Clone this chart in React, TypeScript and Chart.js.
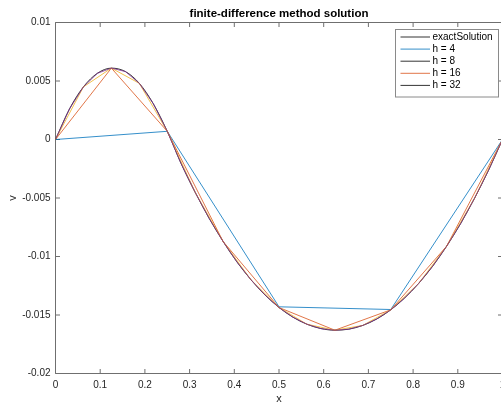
import React, { useEffect, useRef } from 'react';
import { Chart, registerables } from 'chart.js';

Chart.register(...registerables);

// ---------- text ----------
const titleText = 'finite-difference method solution';
const xAxisLabel = 'x';
const yAxisLabel = 'v';

// ---------- ticks ----------
const xTickValues = [0, 0.1, 0.2, 0.3, 0.4, 0.5, 0.6, 0.7, 0.8, 0.9, 1];
const xTickLabels = ['0', '0.1', '0.2', '0.3', '0.4', '0.5', '0.6', '0.7', '0.8', '0.9', '1'];
const yTickValues = [-0.02, -0.015, -0.01, -0.005, 0, 0.005, 0.01];
const yTickLabels = ['-0.02', '-0.015', '-0.01', '-0.005', '0', '0.005', '0.01'];

// ---------- legend (as shown in the figure) ----------
const legendLabels = ['exactSolution', 'h = 4', 'h = 8', 'h = 16', 'h = 32'];
const legendColors = ['#000000', '#0072BD', '#000000', '#D95319', '#000000'];

// ---------- series ----------
const exactX = [
  0, 0.03125, 0.0625, 0.09375, 0.125, 0.15625, 0.1875, 0.21875, 0.25, 0.28125, 0.3125,
  0.34375, 0.375, 0.40625, 0.4375, 0.46875, 0.5, 0.53125, 0.5625, 0.59375, 0.625,
  0.65625, 0.6875, 0.71875, 0.75, 0.78125, 0.8125, 0.84375, 0.875, 0.90625, 0.9375,
  0.96875, 1,
];
const exactV = [
  0, 0.00261, 0.0045, 0.00566, 0.0061, 0.00581, 0.0048, 0.00306, 0.0007, -0.00208,
  -0.00452, -0.00674, -0.00872, -0.01048, -0.012, -0.01329, -0.01436, -0.01519,
  -0.01579, -0.01616, -0.0163, -0.01621, -0.01589, -0.01534, -0.01456, -0.01354,
  -0.0123, -0.01083, -0.00912, -0.00719, -0.00502, -0.00263, 0,
];

const h4X = [0, 0.25, 0.5, 0.75, 1];
const h4V = [0, 0.0007, -0.0143, -0.01453, 0];

const h8X = [0, 0.125, 0.25, 0.375, 0.5, 0.625, 0.75, 0.875, 1];
const h8V = [0, 0.0061, 0.0007, -0.00872, -0.01436, -0.0163, -0.01456, -0.00912, 0];

const h16X = [
  0, 0.0625, 0.125, 0.1875, 0.25, 0.3125, 0.375, 0.4375, 0.5, 0.5625, 0.625, 0.6875,
  0.75, 0.8125, 0.875, 0.9375, 1,
];
const h16V = [
  0, 0.0045, 0.0061, 0.0048, 0.0007, -0.00452, -0.00872, -0.012, -0.01436, -0.01579,
  -0.0163, -0.01589, -0.01456, -0.0123, -0.00912, -0.00502, 0,
];

const h32X = [
  0, 0.03125, 0.0625, 0.09375, 0.125, 0.15625, 0.1875, 0.21875, 0.25, 0.28125, 0.3125,
  0.34375, 0.375, 0.40625, 0.4375, 0.46875, 0.5, 0.53125, 0.5625, 0.59375, 0.625,
  0.65625, 0.6875, 0.71875, 0.75, 0.78125, 0.8125, 0.84375, 0.875, 0.90625, 0.9375,
  0.96875, 1,
];
const h32V = [
  0, 0.00261, 0.0045, 0.00566, 0.0061, 0.00581, 0.0048, 0.00306, 0.0007, -0.00208,
  -0.00452, -0.00674, -0.00872, -0.01048, -0.012, -0.01329, -0.01436, -0.01519,
  -0.01579, -0.01616, -0.0163, -0.01621, -0.01589, -0.01534, -0.01456, -0.01354,
  -0.0123, -0.01083, -0.00912, -0.00719, -0.00502, -0.00263, 0,
];

const FONT = "'Liberation Sans', Arial, Helvetica, sans-serif";
const AXIS_COLOR = '#6f6f6f';
const TEXT_COLOR = '#262626';
const LINE_W = 0.8;

const toPoints = (xs: number[], vs: number[]) => xs.map((x, i) => ({ x, y: vs[i] }));

const labelFor = (values: number[], labels: string[], v: number) => {
  const i = values.findIndex((t) => Math.abs(t - v) < 1e-9);
  return i >= 0 ? labels[i] : '';
};

const framePlugin = {
  id: 'matlabFrame',
  beforeDatasetsDraw(chart: any) {
    const { ctx, chartArea } = chart;
    const { left, right, top, bottom } = chartArea;
    const xs = chart.scales.x;
    const ys = chart.scales.y;
    const tl = 4.5;
    ctx.save();
    ctx.strokeStyle = AXIS_COLOR;
    ctx.lineWidth = 1;
    ctx.beginPath();
    ctx.rect(left, top, right - left, bottom - top);
    xTickValues.forEach((v) => {
      const px = xs.getPixelForValue(v);
      ctx.moveTo(px, bottom);
      ctx.lineTo(px, bottom - tl);
      ctx.moveTo(px, top);
      ctx.lineTo(px, top + tl);
    });
    yTickValues.forEach((v) => {
      const py = ys.getPixelForValue(v);
      ctx.moveTo(left, py);
      ctx.lineTo(left + tl, py);
      ctx.moveTo(right, py);
      ctx.lineTo(right - tl, py);
    });
    ctx.stroke();
    ctx.restore();
  },
};

const legendPlugin = {
  id: 'matlabLegend',
  afterDraw(chart: any) {
    const { ctx, chartArea } = chart;
    const boxW = 103;
    const boxH = 67.5;
    const boxRight = chartArea.right - 4;
    const boxLeft = boxRight - boxW;
    const boxTop = chartArea.top + 7;
    ctx.save();
    ctx.fillStyle = '#ffffff';
    ctx.fillRect(boxLeft, boxTop, boxW, boxH);
    ctx.strokeStyle = '#8a8a8a';
    ctx.lineWidth = 1;
    ctx.strokeRect(boxLeft, boxTop, boxW, boxH);
    ctx.font = `10px ${FONT}`;
    ctx.textBaseline = 'middle';
    ctx.textAlign = 'left';
    legendLabels.forEach((lab, i) => {
      const y = boxTop + 7.5 + i * 12.1;
      ctx.strokeStyle = legendColors[i];
      ctx.lineWidth = LINE_W;
      ctx.beginPath();
      ctx.moveTo(boxLeft + 5, y);
      ctx.lineTo(boxLeft + 34.5, y);
      ctx.stroke();
      ctx.fillStyle = '#000000';
      ctx.fillText(lab, boxLeft + 37, y);
    });
    ctx.restore();
  },
};

export default function App() {
  const canvasRef = useRef<HTMLCanvasElement | null>(null);

  useEffect(() => {
    const canvas = canvasRef.current;
    if (!canvas) return;
    const lineDs = (label: string, xs: number[], vs: number[], color: string, order: number, smooth = false) => ({
      label,
      data: toPoints(xs, vs),
      borderColor: color,
      backgroundColor: color,
      borderWidth: LINE_W,
      pointRadius: 0,
      pointHoverRadius: 0,
      fill: false,
      tension: 0,
      cubicInterpolationMode: smooth ? 'monotone' : 'default',
      order,
    });
    const chart = new Chart(canvas, {
      type: 'line',
      data: {
        datasets: [
          lineDs('exactSolution', exactX, exactV, '#000000', 5, true),
          lineDs('h = 4', h4X, h4V, '#0072BD', 4),
          lineDs('h = 8', h8X, h8V, '#D95319', 3),
          lineDs('h = 16', h16X, h16V, '#EDB120', 2),
          lineDs('h = 32', h32X, h32V, '#7E2F8E', 1),
        ] as any,
      },
      options: {
        animation: false,
        responsive: false,
        maintainAspectRatio: false,
        devicePixelRatio: 1,
        layout: { padding: { left: 0, right: 9.5, top: 0, bottom: 0 } },
        plugins: {
          legend: { display: false },
          tooltip: { enabled: false },
          title: {
            display: true,
            text: titleText,
            fullSize: false,
            color: '#000000',
            font: { family: FONT, size: 11.5, weight: 'bold' },
            padding: { top: 7, bottom: 1.7 },
          },
        },
        scales: {
          x: {
            type: 'linear',
            min: 0,
            max: 1,
            grid: { display: false, drawTicks: false },
            border: { display: false },
            afterBuildTicks: (scale: any) => {
              scale.ticks = xTickValues.map((v) => ({ value: v }));
            },
            afterFit: (scale: any) => {
              scale.height = 30.5;
            },
            ticks: {
              autoSkip: false,
              maxRotation: 0,
              minRotation: 0,
              padding: 6,
              color: TEXT_COLOR,
              font: { family: FONT, size: 10 },
              callback: (v: any) => labelFor(xTickValues, xTickLabels, Number(v)),
            },
            title: {
              display: true,
              text: xAxisLabel,
              color: TEXT_COLOR,
              font: { family: FONT, size: 11 },
              padding: { top: 0, bottom: -2 },
            },
          },
          y: {
            type: 'linear',
            min: -0.02,
            max: 0.01,
            grid: { display: false, drawTicks: false },
            border: { display: false },
            afterBuildTicks: (scale: any) => {
              scale.ticks = yTickValues.map((v) => ({ value: v }));
            },
            afterFit: (scale: any) => {
              scale.width = 55.5;
            },
            ticks: {
              autoSkip: false,
              padding: 5,
              color: TEXT_COLOR,
              font: { family: FONT, size: 10 },
              callback: (v: any) => labelFor(yTickValues, yTickLabels, Number(v)),
            },
            title: {
              display: true,
              text: yAxisLabel,
              color: TEXT_COLOR,
              font: { family: FONT, size: 11 },
              padding: { top: 6, bottom: 0 },
            },
          },
        },
      } as any,
      plugins: [framePlugin, legendPlugin],
    });
    return () => chart.destroy();
  }, []);

  return (
    <div
      style={{
        position: 'fixed',
        left: 0,
        top: 0,
        width: 501,
        height: 404,
        overflow: 'hidden',
        background: '#ffffff',
      }}
    >
      <canvas ref={canvasRef} width={512} height={404} style={{ display: 'block' }} />
    </div>
  );
}
